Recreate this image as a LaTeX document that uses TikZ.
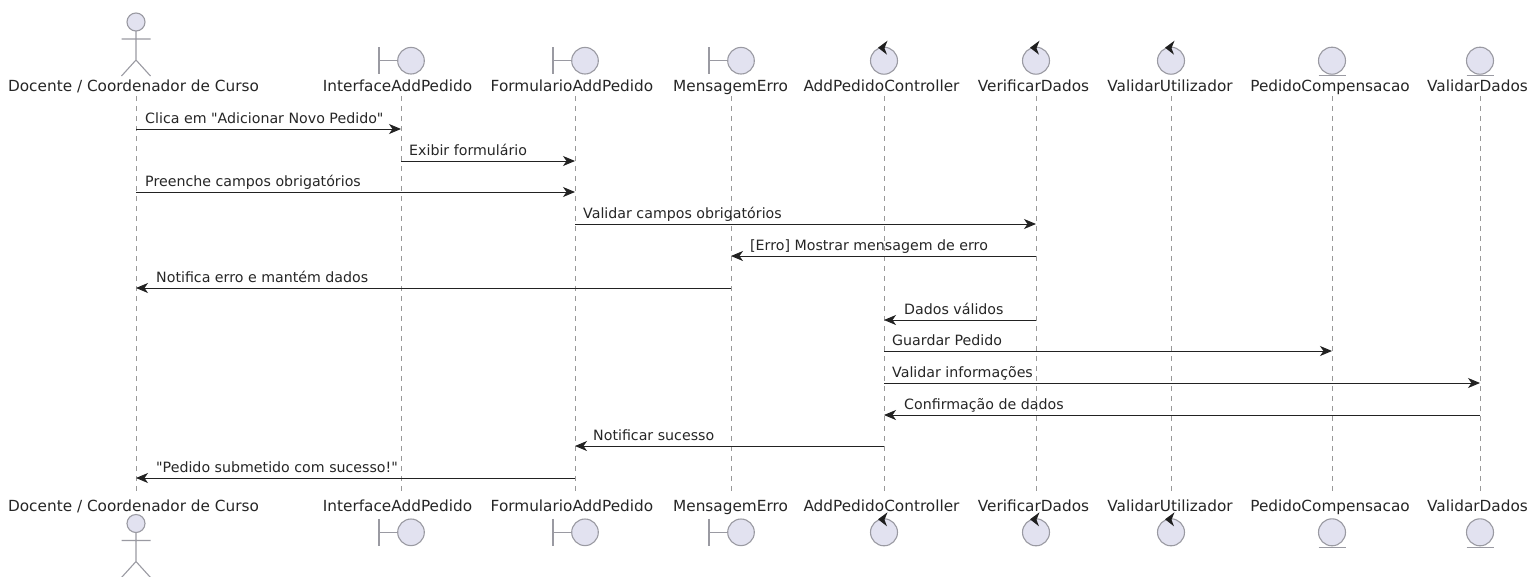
\documentclass[tikz,border=0pt]{standalone}
\usepackage{fontspec}
\newfontfamily\dv{DejaVu Sans}
\usetikzlibrary{arrows.meta}
\definecolor{partfill}{HTML}{E2E2F0}
\definecolor{partline}{HTML}{9A9AA2}
\definecolor{lifecol}{HTML}{999999}
\definecolor{msgline}{HTML}{222222}
\tikzset{
  x=1pt,y=-1pt,
  lifeline/.style={draw=lifecol,line width=0.7pt,dash pattern=on 5pt off 5pt},
  partlabel/.style={font=\dv\fontsize{15.3}{18}\selectfont,text=black!85,inner sep=0pt,anchor=base},
  msglabel/.style={font=\dv\fontsize{14.2}{16}\selectfont,text=black!85,inner sep=0pt,anchor=base west},
  msg/.style={draw=msgline,line width=0.9pt,-{Stealth[length=12pt,width=10pt,inset=3.5pt]},shorten >=0pt},
  partshape/.style={draw=partline,fill=partfill,line width=1.1pt},
  partstroke/.style={draw=partline,line width=1.1pt}
}
\newcommand{\actorfig}[2]{% x, top y
  \draw[partshape] (#1,#2+9) circle (9);
  \draw[partstroke] (#1,#2+18) -- (#1,#2+47) (#1-14.5,#2+26) -- (#1+14.5,#2+26)
    (#1-14.5,#2+63) -- (#1,#2+47) -- (#1+14.5,#2+63);
}
\newcommand{\boundfig}[2]{% x, centre y
  \draw[partstroke] (#1-22,#2-13.5) -- (#1-22,#2+13.5) (#1-22,#2) -- (#1-3,#2);
  \draw[partshape] (#1+10,#2) circle (13.3);
}
\newcommand{\ctrlfig}[2]{% x, centre y
  \draw[partshape] (#1,#2) circle (13.5);
  \fill[black!88] (#1-6,#2-13) -- (#1+3.5,#2-20) -- (#1+0.5,#2-12.5) -- (#1+3,#2-6) -- cycle;
}
\newcommand{\entfig}[2]{% x, centre y
  \draw[partshape] (#1,#2) circle (13.5);
  \draw[partstroke] (#1-13.5,#2+15) -- (#1+13.5,#2+15);
}
\begin{document}
\begin{tikzpicture}
\useasboundingbox (0,0) rectangle (1539,576);
\path[fill=white] (0,0) rectangle (1539,576);
% participants
\node[partlabel] (at) at (133.5,91) {Docente / Coordenador de Curso};
\node[partlabel] (ab) at (133.5,511) {Docente / Coordenador de Curso};
\node[partlabel] (it) at (397.5,91) {InterfaceAddPedido};
\node[partlabel] (ib) at (397.5,511) {InterfaceAddPedido};
\node[partlabel] (ft) at (572,91) {FormularioAddPedido};
\node[partlabel] (fb) at (572,511) {FormularioAddPedido};
\node[partlabel] (mt) at (730.5,91) {MensagemErro};
\node[partlabel] (mb) at (730.5,511) {MensagemErro};
\node[partlabel] (ct) at (881.5,91) {AddPedidoController};
\node[partlabel] (cb) at (881.5,511) {AddPedidoController};
\node[partlabel] (vt) at (1033.5,91) {VerificarDados};
\node[partlabel] (vb) at (1033.5,511) {VerificarDados};
\node[partlabel] (ut) at (1170,91) {ValidarUtilizador};
\node[partlabel] (ub) at (1170,511) {ValidarUtilizador};
\node[partlabel] (pt) at (1330,91) {PedidoCompensacao};
\node[partlabel] (pb) at (1330,511) {PedidoCompensacao};
\node[partlabel] (dt) at (1477.5,91) {ValidarDados};
\node[partlabel] (db) at (1477.5,511) {ValidarDados};
% lifelines
\foreach \x/\n in {136/a,401/i,575/f,731/m,884/c,1036/v,1171/u,1332/p,1480/d}{
  \coordinate (\n0) at (\x,96);
  \coordinate (\n1) at (\x,493);
  \draw[lifeline] (\n0) -- (\n1);
}
% figures
\actorfig{136}{13}
\actorfig{136}{514.5}
\boundfig{401}{60.7}\boundfig{575}{60.7}\boundfig{731}{60.7}
\boundfig{401}{532.3}\boundfig{575}{532.3}\boundfig{731}{532.3}
\ctrlfig{884}{60.7}\ctrlfig{1036}{60.7}\ctrlfig{1171}{60.7}
\ctrlfig{884}{532.3}\ctrlfig{1036}{532.3}\ctrlfig{1171}{532.3}
\entfig{1332}{60.7}\entfig{1480}{60.7}
\entfig{1332}{532.3}\entfig{1480}{532.3}
% messages
\foreach \y/\from/\to/\lx/\t in {
  129/a/i/145/{Clica em "Adicionar Novo Pedido"},
  161/i/f/409/{Exibir formulário},
  192/a/f/145/{Preenche campos obrigatórios},
  224/f/v/583/{Validar campos obrigatórios},
  256/v/m/750/{[Erro] Mostrar mensagem de erro},
  288/m/a/156/{Notifica erro e mantém dados},
  320/v/c/904/{Dados válidos},
  351/c/p/892/{Guardar Pedido},
  383/c/d/892/{Validar informações},
  415/d/c/904/{Confirmação de dados},
  446/c/f/593/{Notificar sucesso},
  478/f/a/156/{"Pedido submetido com sucesso!"}}{
  \draw[msg] (\from0 |- 0,\y) -- (\to0 |- 0,\y);
  \node[msglabel] at (\lx,\y-5.5) {\t};
}
\end{tikzpicture}
\end{document}
